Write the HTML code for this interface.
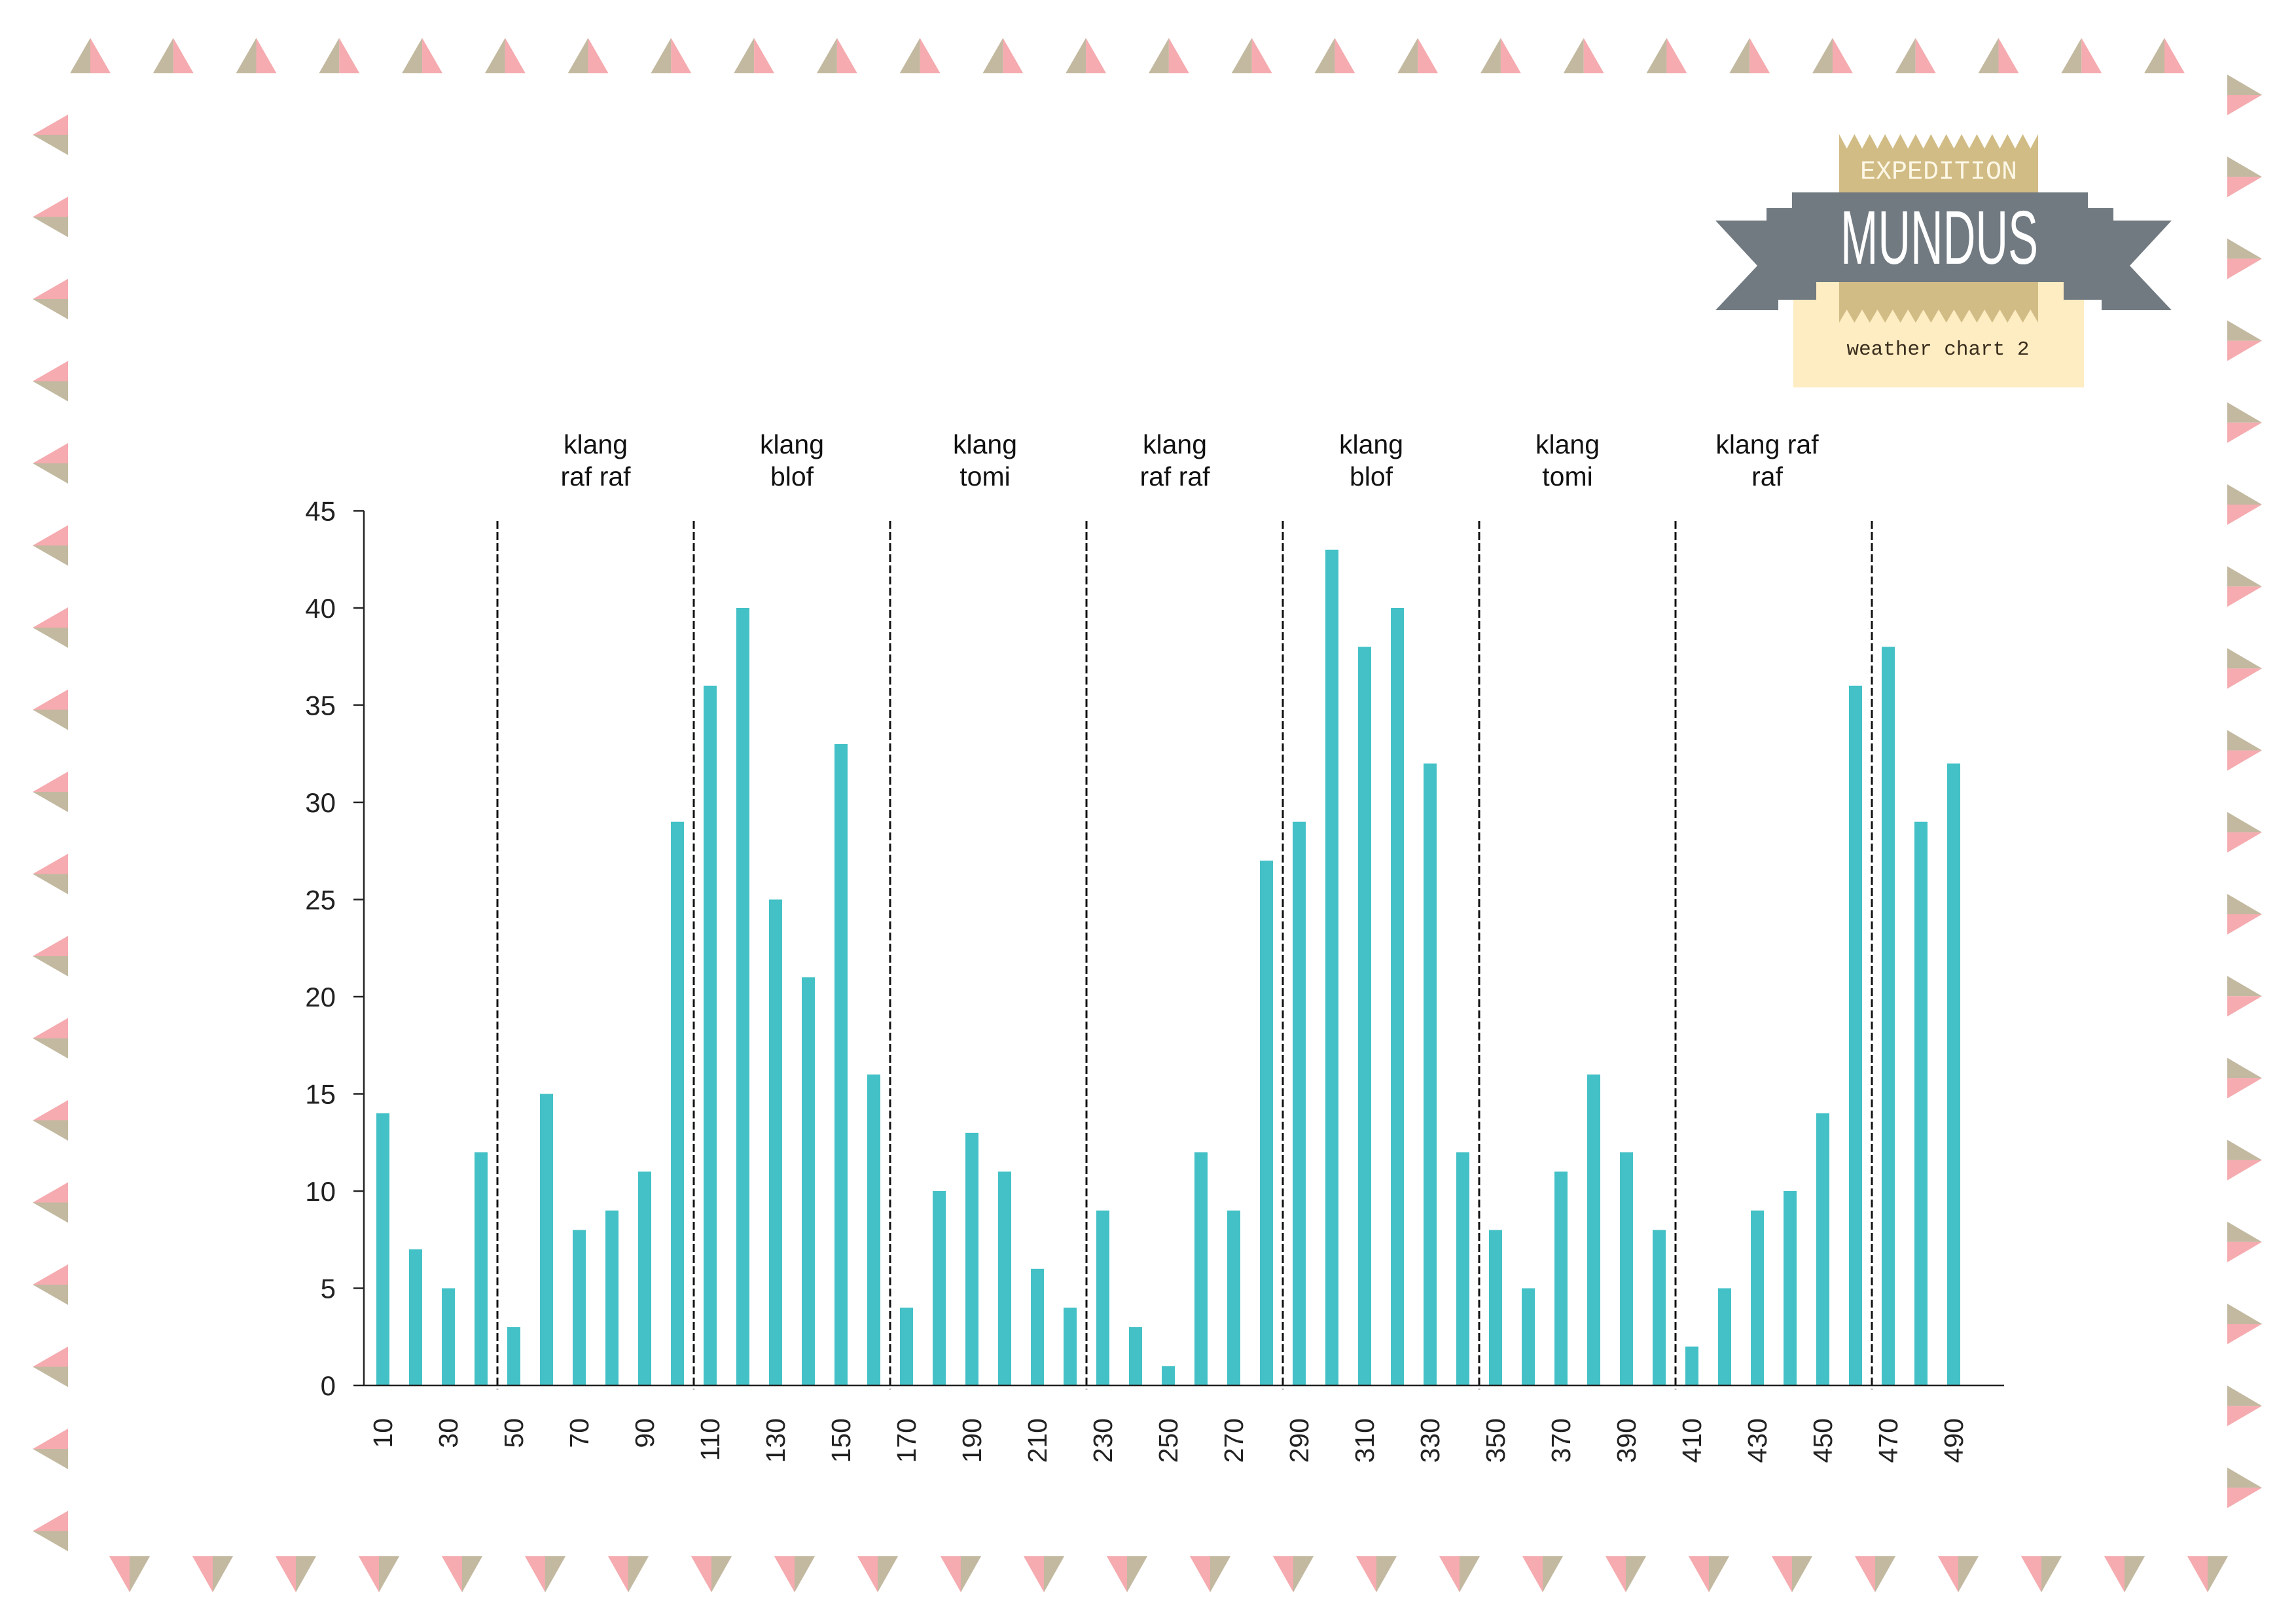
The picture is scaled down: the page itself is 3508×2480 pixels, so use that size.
<!DOCTYPE html>
<html><head><meta charset="utf-8"><style>
html,body{margin:0;padding:0;background:#fff;}
svg{display:block;font-family:"Liberation Sans",sans-serif;}
</style></head><body>
<svg id="chart" width="3508" height="2480" viewBox="0 0 3508 2480" xmlns="http://www.w3.org/2000/svg">
<g id="border"></g>
<g id="logo">
  <rect x="2740" y="431" width="444" height="161" fill="#feecc2"/>
  <polygon id="tanTop" fill="#d1bc85"/>
  <polygon id="tanBot" fill="#d1bc85"/>
  <polygon fill="#717a81" points="2621,337 2699,337 2699,318 2738,318 2738,431 2775,431 2775,458 2717,458 2717,474 2621,474 2685,406"/>
  <polygon fill="#717a81" points="3318,337 3229,337 3229,318 3190,318 3190,431 3153,431 3153,458 3211,458 3211,474 3318,474 3254,406"/>
  <rect x="2738" y="294" width="452" height="137" fill="#717a81"/>
  <text x="2962" y="273" text-anchor="middle" font-family="Liberation Mono, monospace" font-size="40" fill="#fdf7e6">EXPEDITION</text>
  <text x="2812" y="403" font-family="Liberation Sans, sans-serif" font-size="116" fill="#ffffff" textLength="302" lengthAdjust="spacingAndGlyphs">MUNDUS</text>
  <text x="2961" y="542" text-anchor="middle" font-family="Liberation Mono, monospace" font-size="31" fill="#3a2e1e">weather chart 2</text>
</g>
<g id="plot"></g>
</svg>
<script>
const categories = [10,20,30,40,50,60,70,80,90,100,110,120,130,140,150,160,170,180,190,200,210,220,230,240,250,260,270,280,290,300,310,320,330,340,350,360,370,380,390,400,410,420,430,440,450,460,470,480,490];
const values = [14,7,5,12,3,15,8,9,11,29,36,40,25,21,33,16,4,10,13,11,6,4,9,3,1,12,9,27,29,43,38,40,32,12,8,5,11,16,12,8,2,5,9,10,14,36,38,29,32];
const yTicks = [0,5,10,15,20,25,30,35,40,45];
const xTickLabels = [10,30,50,70,90,110,130,150,170,190,210,230,250,270,290,310,330,350,370,390,410,430,450,470,490];
const dividers = [45,105,165,225,285,345,405,465];
const groupCenters = [75,135,194,252,312,372,433];
const groupLabels = [["klang","raf raf"],["klang","blof"],["klang","tomi"],["klang","raf raf"],["klang","blof"],["klang","tomi"],["klang raf","raf"]];

const NS="http://www.w3.org/2000/svg";
const X0=585, Y0=2117;
function xs(v){return X0+(v-10)*5;}
function ys(v){return Y0-v*29.7;}
function mk(tag,attrs,parent){const e=document.createElementNS(NS,tag);for(const k in attrs)e.setAttribute(k,attrs[k]);parent.appendChild(e);return e;}
const plot=document.getElementById('plot');

categories.forEach((c,i)=>{
  const r=mk('rect',{x:xs(c)-10,y:ys(values[i]),width:20,height:Y0-ys(values[i]),fill:'#43c1c6'},plot);
  
  
});
dividers.forEach(d=>{
  const l=mk('line',{x1:xs(d),x2:xs(d),y1:796,y2:Y0+6,stroke:'#111','stroke-width':3,'stroke-dasharray':'12 5'},plot);
  
  
});
const ya=mk('line',{x1:556,x2:556,y1:ys(45),y2:Y0,stroke:'#222','stroke-width':2.5},plot);


const xa=mk('line',{x1:556,x2:3062,y1:Y0,y2:Y0,stroke:'#222','stroke-width':2.5},plot);


yTicks.forEach(t=>{
  const tk=mk('line',{x1:540,x2:556,y1:ys(t),y2:ys(t),stroke:'#222','stroke-width':2.5},plot);
  
  
  const tx=mk('text',{x:513,y:ys(t)+15,'text-anchor':'end','font-size':42,fill:'#222'},plot);
  tx.textContent=t;
  
  
});
xTickLabels.forEach(t=>{
  const x=xs(t)+14, y=2167;
  const tx=mk('text',{x:x,y:y,'text-anchor':'end','font-size':41,fill:'#222',transform:'rotate(-90 '+x+' '+y+')'},plot);
  tx.textContent=t;
  
  
});
groupCenters.forEach((g,i)=>{
  groupLabels[i].forEach((line,j)=>{
    const tx=mk('text',{x:xs(g),y:693+j*49,'text-anchor':'middle','font-size':41,fill:'#111'},plot);
    tx.textContent=line;
    
    
  });
});

(function(){
  let p=[[2810,294],[2810,205]];const n=13,w=304/n;
  for(let i=0;i<n;i++){p.push([2810+i*w+w/2,227]);p.push([2810+(i+1)*w,205]);}
  p.push([3114,294]);
  document.getElementById('tanTop').setAttribute('points',p.map(a=>a.join(',')).join(' '));
  let q=[[2810,431],[2810,493]];
  for(let i=0;i<n;i++){q.push([2810+i*w+w/2,473]);q.push([2810+(i+1)*w,493]);}
  q.push([3114,431]);
  document.getElementById('tanBot').setAttribute('points',q.map(a=>a.join(',')).join(' '));
})();

const TAN='#c2b9a0', PINK='#f5abaf';
const border=document.getElementById('border');
function tri(points,fill){const e=mk('polygon',{points:points,fill:fill},border);
  
  }
for(let i=0;i<26;i++){const c=138+i*126.76;
  tri(`${c-31},112 ${c},58 ${c},112`,TAN); tri(`${c},58 ${c+31},112 ${c},112`,PINK);}
for(let i=0;i<26;i++){const c=198+i*127.0;
  tri(`${c-31},2378 ${c},2378 ${c},2433`,PINK); tri(`${c},2378 ${c+31},2378 ${c},2433`,TAN);}
for(let i=0;i<18;i++){const c=206+i*125.5;
  tri(`104,${c-31} 104,${c} 50,${c}`,PINK); tri(`104,${c} 104,${c+31} 50,${c}`,TAN);}
for(let i=0;i<18;i++){const c=145+i*125.2;
  tri(`3403,${c-31} 3456,${c} 3403,${c}`,TAN); tri(`3403,${c} 3456,${c} 3403,${c+31}`,PINK);}
</script>
</body></html>
